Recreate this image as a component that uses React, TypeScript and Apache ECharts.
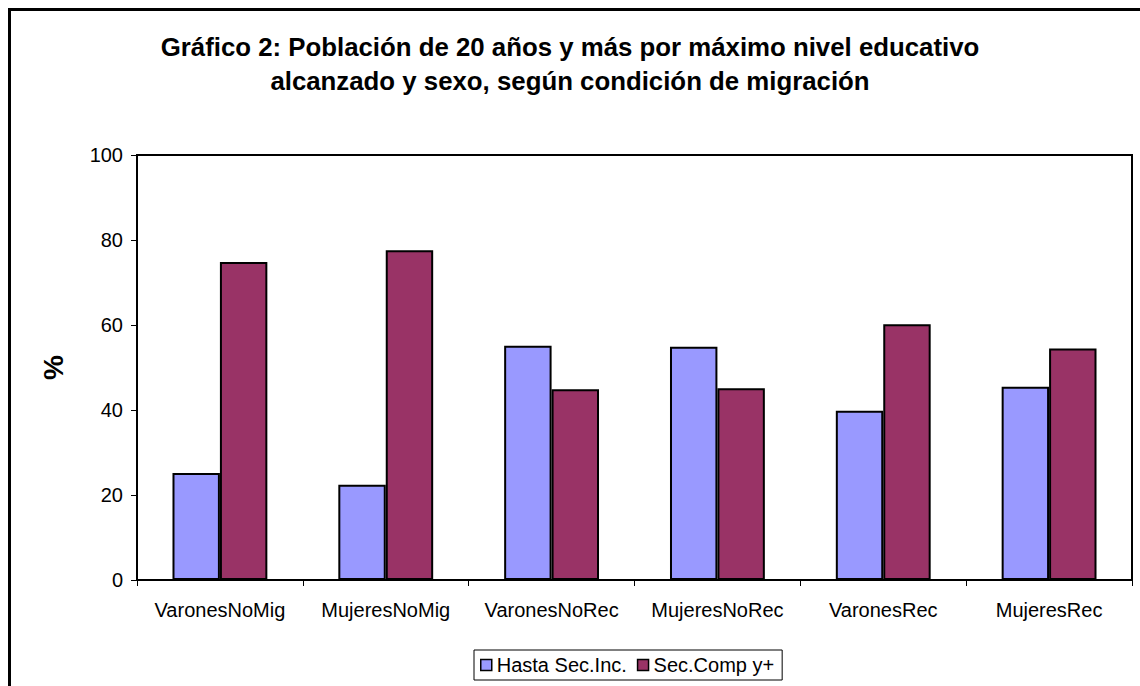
import React, { useEffect, useRef } from "react";
import * as echarts from "echarts";

const categories = ["VaronesNoMig", "MujeresNoMig", "VaronesNoRec", "MujeresNoRec", "VaronesRec", "MujeresRec"];
const hastaSecInc = [25.2, 22.4, 55.1, 54.9, 39.8, 45.5];
const secCompYMas = [74.8, 77.6, 44.9, 45.1, 60.2, 54.5];
const seriesNames = ["Hasta Sec.Inc.", "Sec.Comp y+"];
const yTicks = { min: 0, max: 100, interval: 20 };

export default function App() {
  const ref = useRef<HTMLDivElement>(null);
  useEffect(() => {
    if (!ref.current) return;
    const chart = echarts.init(ref.current, null, { renderer: "svg" });
    const font = "Arial, 'Liberation Sans', sans-serif";
    chart.setOption({
      animation: false,
      backgroundColor: "#ffffff",
      textStyle: { fontFamily: font },
      title: {
        text: "Gráfico 2: Población de 20 años y más por máximo nivel educativo\nalcanzado y sexo, según condición de migración",
        left: "center",
        top: 25,
        textStyle: { fontSize: 25.8, fontWeight: "bold", color: "#000", lineHeight: 34, fontFamily: font },
      },
      graphic: [
        {
          type: "rect",
          shape: { x: 9.5, y: 9.5, width: 1300, height: 800 },
          style: { fill: "none", stroke: "#000", lineWidth: 3 },
          silent: true,
        },
      ],
      legend: {
        data: seriesNames,
        left: 474,
        top: 650,
        itemWidth: 11,
        itemHeight: 11,
        itemGap: 10,
        padding: [5, 8, 5, 6],
        borderColor: "#000",
        borderWidth: 1,
        icon: "rect",
        textStyle: { fontSize: 20, color: "#000", fontFamily: font },
        itemStyle: { borderColor: "#000", borderWidth: 1.5 },
      },
      grid: {
        left: 137,
        right: 8,
        top: 155,
        bottom: 106,
        show: true,
        borderColor: "#000",
        borderWidth: 2,
        containLabel: false,
      },
      xAxis: {
        type: "category",
        data: categories,
        axisLine: { show: true, lineStyle: { color: "#000", width: 2 } },
        axisTick: { show: true, length: 6, alignWithLabel: false, interval: 0, lineStyle: { color: "#000", width: 1 } },
        axisLabel: { fontSize: 20, color: "#000", margin: 20, interval: 0, fontFamily: font },
        splitLine: { show: false },
      },
      yAxis: {
        type: "value",
        min: yTicks.min,
        max: yTicks.max,
        interval: yTicks.interval,
        name: "%",
        nameLocation: "middle",
        nameRotate: 90,
        nameGap: 70,
        nameTextStyle: { fontSize: 28, fontWeight: "bold", color: "#000", fontFamily: font },
        axisLine: { show: true, lineStyle: { color: "#000", width: 2 } },
        axisTick: { show: true, length: 6, lineStyle: { color: "#000", width: 1 } },
        axisLabel: { fontSize: 20, color: "#000", margin: 14, fontFamily: font },
        splitLine: { show: false },
      },
      series: [
        {
          name: seriesNames[0],
          type: "bar",
          data: hastaSecInc,
          barWidth: "28.6%",
          barGap: "0%",
          itemStyle: { color: "#9999FF", borderColor: "#000", borderWidth: 2 },
        },
        {
          name: seriesNames[1],
          type: "bar",
          data: secCompYMas,
          barWidth: "28.6%",
          barGap: "0%",
          itemStyle: { color: "#993366", borderColor: "#000", borderWidth: 2 },
        },
      ],
    });
    return () => chart.dispose();
  }, []);
  return (
    <div
      ref={ref}
      style={{ position: "fixed", left: 0, top: 0, width: 1140, height: 686 }}
    />
  );
}
